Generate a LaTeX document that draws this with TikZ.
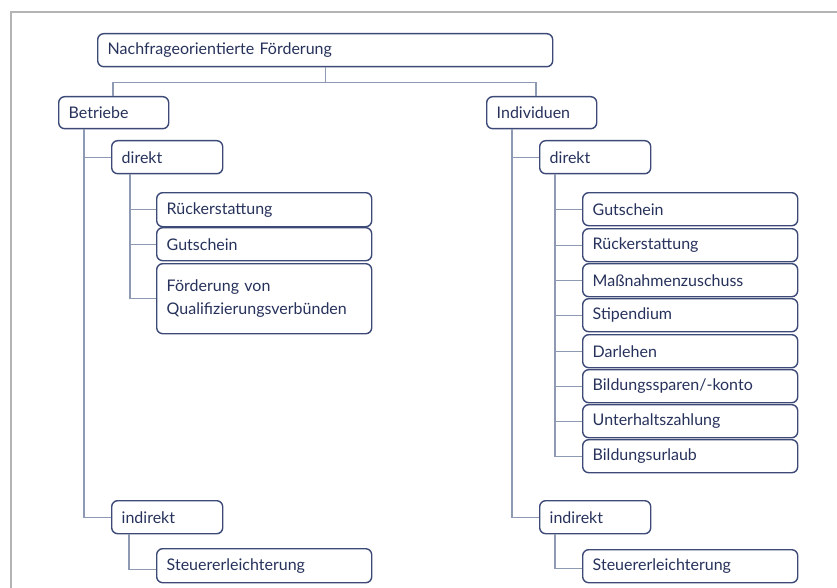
\documentclass[tikz,border=0pt]{standalone}
\usepackage{fontspec}
\setmainfont{Lato}
\definecolor{boxline}{HTML}{3D4A78}
\definecolor{boxtext}{HTML}{27325C}
\definecolor{linkline}{HTML}{8E9AB4}
\definecolor{framegray}{HTML}{B4B4B4}
\tikzset{
  box/.style={draw=boxline, line width=1.4pt, rounded corners=6pt, fill=white,
    inner xsep=10pt, inner ysep=0pt, anchor=north west, align=left,
    minimum height=33pt, text=boxtext, font=\fontsize{16}{23}\selectfont},
  leafbox/.style={box, text width=195pt},
  midbox/.style={box, text width=91pt},
  link/.style={draw=linkline, line width=1.2pt},
}
\begin{document}
\begin{tikzpicture}[x=1pt,y=-1pt]
\useasboundingbox (0,0) rectangle (837,588);
% outer frame (top and left edges)
\draw[framegray, line width=1.5pt] (11,588) -- (11,12) -- (837,12);

% root
\node[box, text width=435pt] (root) at (97,33) {Nachfrageorientierte Förderung};

% left branch: Betriebe
\node[box, text width=90pt, minimum height=32pt] (bet) at (58,96) {Betriebe};
\node[midbox] (bdir) at (111,140) {direkt};
\node[leafbox, minimum height=34pt] (bRueck) at (156,192) {Rückerstattung};
\node[leafbox] (bGut) at (156,227) {Gutschein};
\node[leafbox, minimum height=70pt] (bQual) at (156,263) {Förderung von\\Qualifizierungsverbünden};
\node[midbox] (bind) at (111,500) {indirekt};
\node[leafbox, minimum height=34pt] (bSteuer) at (156,548) {Steuererleichterung};

% right branch: Individuen
\node[box, text width=90pt, minimum height=32pt] (ind) at (486,96) {Individuen};
\node[midbox] (idir) at (539,140) {direkt};
\node[leafbox] (iGut) at (582,192) {Gutschein};
\node[leafbox] (iRueck) at (582,228) {Rückerstattung};
\node[leafbox] (iMass) at (582,263) {Maßnahmenzuschuss};
\node[leafbox] (iStip) at (582,298) {Stipendium};
\node[leafbox] (iDarl) at (582,334) {Darlehen};
\node[leafbox] (iSpar) at (582,369) {Bildungssparen/-konto};
\node[leafbox] (iUnt) at (582,404) {Unterhaltszahlung};
\node[leafbox] (iUrl) at (582,439) {Bildungsurlaub};
\node[midbox] (iind) at (539,500) {indirekt};
\node[leafbox] (iSteuer) at (582,549) {Steuererleichterung};

% connectors
\draw[link] (root.south) -- ++(0,15) coordinate (hub);
\draw[link] (hub) -| ([xshift=55pt]bet.north west);
\draw[link] (hub) -| ([xshift=50pt]ind.north west);

\draw[link] ([xshift=26pt]bet.south west) |- (bind.west);
\draw[link] ([xshift=26pt]bet.south west) |- (bdir.west);
\draw[link] ([xshift=19pt]bdir.south west) |- (bQual.west);
\draw[link] ([xshift=19pt]bdir.south west) |- (bRueck.west);
\draw[link] ([xshift=19pt]bdir.south west) |- (bGut.west);
\draw[link] ([xshift=18pt]bind.south west) |- ([yshift=-4pt]bSteuer.west);

\draw[link] ([xshift=26pt]ind.south west) |- (iind.west);
\draw[link] ([xshift=26pt]ind.south west) |- (idir.west);
\foreach \n in {iGut,iRueck,iMass,iStip,iDarl,iSpar,iUnt,iUrl}
  \draw[link] ([xshift=16pt]idir.south west) |- (\n.west);
\draw[link] ([xshift=16pt]iind.south west) |- ([yshift=-2pt]iSteuer.west);
\end{tikzpicture}
\end{document}
